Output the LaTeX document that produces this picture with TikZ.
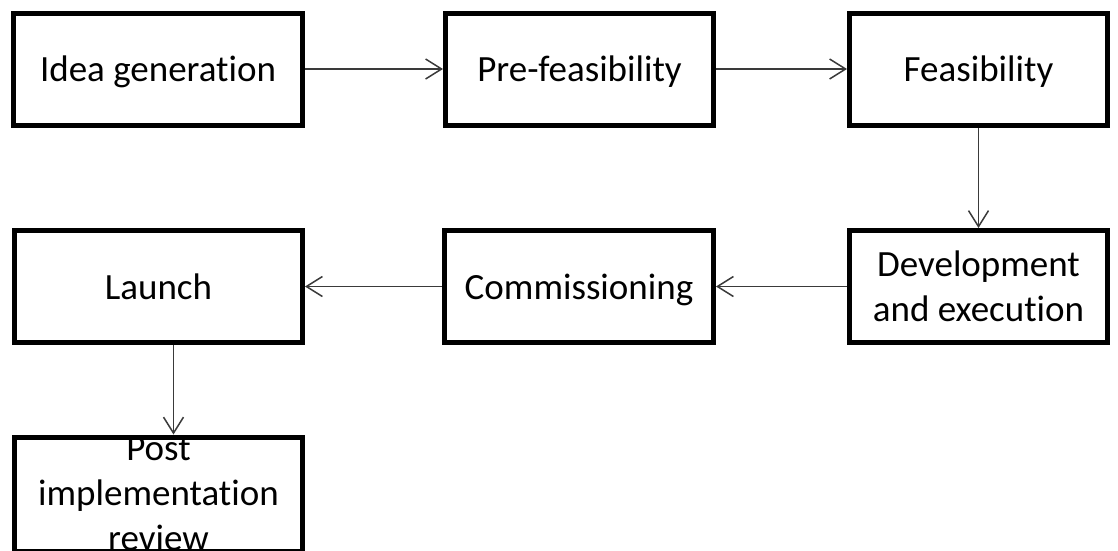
\documentclass[tikz,border=0pt]{standalone}
\usepackage{fontspec}
\setmainfont{Carlito}[Ligatures=NoCommon]
\usepackage{tikz}
\usetikzlibrary{arrows.meta}
\tikzset{>={Straight Barb[length=16pt,width=20pt,line width=1.5pt]}}
\definecolor{connector}{HTML}{3A3A3A}
\tikzset{
  stage/.style={draw=black, line width=5pt, fill=white, align=center,
    minimum height=112pt, inner sep=0pt, font=\fontsize{37}{45}\selectfont},
  oneline/.style={text depth=0pt},
  flow/.style={->, connector, line width=1.5pt}
}

\begin{document}
\begin{tikzpicture}[x=1pt, y=-1pt]
            \useasboundingbox (0, 0) rectangle (1118, 550);
            \node[stage, oneline, minimum width=289pt] (idea) at (158, 69) {Idea generation};
            \node[stage, oneline, minimum width=268pt] (prefeas) at (579.5, 69) {Pre-feasibility};
            \node[stage, oneline, minimum width=258pt] (feas) at (978.5, 69) {Feasibility};
            \node[stage, minimum width=258pt] (dev) at (978.5, 286.5) {Development\\and execution};
            \node[stage, oneline, minimum width=269pt] (comm) at (579, 286.5) {Commissioning};
            \node[stage, oneline, minimum width=288pt] (launch) at (158.5, 286.5) {Launch};
            \node[stage, minimum width=288pt, minimum height=114pt] (post) at (158.5, 494) {Post\\implementation\\review};
            \draw[flow] (idea) -- (prefeas);
            \draw[flow] (prefeas) -- (feas);
            \draw[flow] (feas) -- (dev);
            \draw[flow] (dev) -- (comm);
            \draw[flow] (comm) -- (launch);
            \draw[flow] ([xshift=15pt]launch.south) -- ([xshift=15pt]post.north);
        \end{tikzpicture}
\end{document}
